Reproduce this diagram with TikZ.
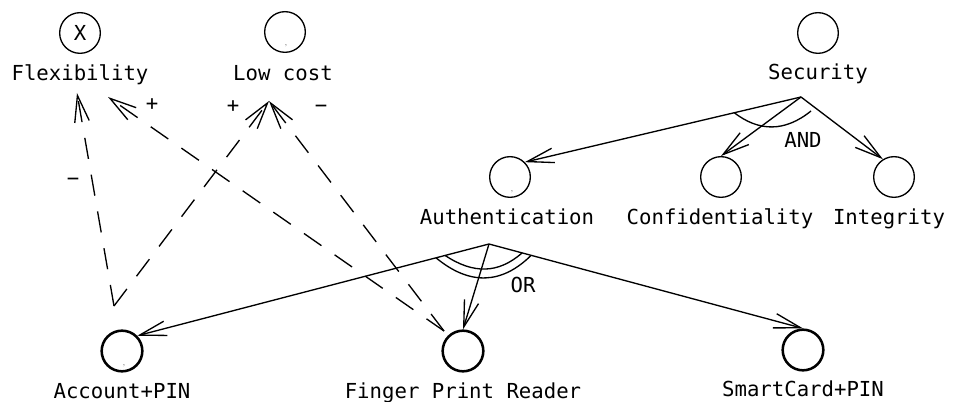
\documentclass[tikz,border=0pt]{standalone}
\usepackage{fontspec}
\setmonofont{DejaVu Sans Mono}
\usetikzlibrary{arrows.meta}
\definecolor{ink}{HTML}{000000}

\begin{document}
\begin{tikzpicture}[x=0.75pt,y=-0.75pt,line width=1pt,
    >={Straight Barb[length=20pt,width=11pt]}]
  \tikzset{
    goal/.style={circle,draw=ink,minimum size=30.5pt,inner sep=0pt,
        font=\ttfamily\fontsize{15.5}{18}\selectfont},
    task/.style={goal,line width=1.9pt},
    lbl/.style={anchor=base,font=\ttfamily\fontsize{15.5}{18}\selectfont},
    tinymark/.style={font=\fontsize{5}{5}\selectfont,inner sep=0pt},
    decomp/.style={->,draw=ink},
    contrib/.style={->,draw=ink,dash pattern=on 16pt off 12pt},
    sign/.style={font=\ttfamily\fontsize{15.5}{18}\selectfont}
  }
  \useasboundingbox (0,0) rectangle (953,402);

  % softgoals and goals
  \node[goal] (flex) at (80,33) {X};
  \node[goal] (lowc) at (285,32) {};
  \node[goal] (sec) at (818,33) {};
  \node[goal] (auth) at (510,177) {};
  \node[goal] (conf) at (721,177) {};
  \node[goal] (integ) at (894,177) {};
  \node[task] (acc) at (122,351) {};
  \node[task] (fpr) at (463,351) {};
  \node[task] (smart) at (803,350) {};

  \node[tinymark] at (286,46) {,};
  \node[tinymark] at (512,192) {,};
  \node[tinymark] at (124,366) {,};

  \node[lbl] (flexlbl) at (80,81) {Flexibility};
  \node[lbl] (lowclbl) at (283,81) {Low cost};
  \node[lbl] (seclbl) at (818,80) {Security};
  \node[lbl] (authlbl) at (507,225) {Authentication};
  \node[lbl] (conflbl) at (720,225) {Confidentiality};
  \node[lbl] (integlbl) at (889,225) {Integrity};
  \node[lbl] (acclbl) at (122,398) {Account+PIN};
  \node[lbl] (fprlbl) at (463,398) {Finger Print Reader};
  \node[lbl] (smartlbl) at (803,397) {SmartCard+PIN};

  \coordinate (secjoin) at (801,97);
  \coordinate (authjoin) at (489,244);

  % AND decomposition
  \draw[decomp] (secjoin)--(auth.45);
  \draw[decomp] (secjoin)--(conf.north);
  \draw[decomp] (secjoin)--(integ.122);
  \draw (734,112.5) .. controls (759,132) and (785,132) .. (811,111);
  \node[sign] (andlbl) at (803,140) {AND};

  % OR decomposition
  \draw[decomp] (authjoin)--(acc.45);
  \draw[decomp] (authjoin)--(fpr.north);
  \draw[decomp] (authjoin)--(smart.north);
  \draw (445,255.4) .. controls (473,274) and (498,274) .. (522,253);
  \draw (436,257.8) .. controls (470,286) and (502,284) .. (531,255.5);
  \node[sign] (orlbl) at (523,285) {OR};

  % contributions
  \coordinate (accout) at (114,306);
  \coordinate (fprout) at (444,331);
  \coordinate (flexin1) at (77,93);
  \coordinate (flexin2) at (108,97);
  \coordinate (lowcin) at (269,101);

  \draw[contrib] (accout)--(flexin1);
  \draw[contrib] (accout)--(lowcin);
  \draw[contrib] (fprout)--(flexin2);
  \draw[contrib] (fprout)--(lowcin);
  \node[sign] at (73,182) {−};
  \node[sign] at (233,107) {+};
  \node[sign] at (152,105) {+};
  \node[sign] at (321,109) {−};
\end{tikzpicture}
\end{document}
